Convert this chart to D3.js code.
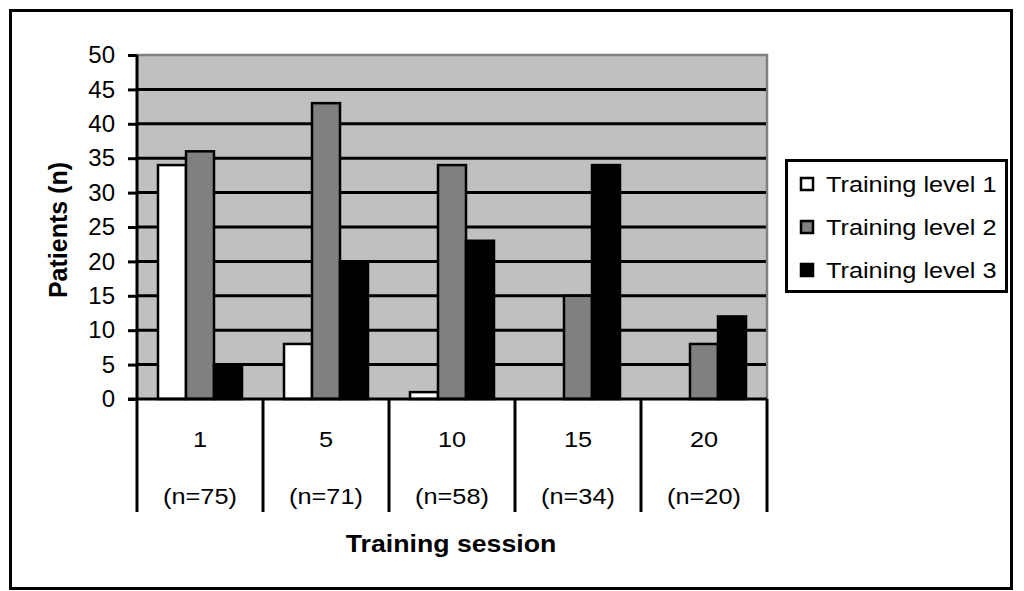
<!DOCTYPE html>
<html><head><meta charset="utf-8">
<script src="https://cdn.jsdelivr.net/npm/d3@7"></script>
<style>body{margin:0;background:#fff}svg{display:block}text{font-family:"Liberation Sans",Arial,sans-serif}</style>
</head><body>
<script>
const sessions = ["1","5","10","15","20"];
const sessionN = ["(n=75)","(n=71)","(n=58)","(n=34)","(n=20)"];
const seriesNames = ["Training level 1","Training level 2","Training level 3"];
const level1 = [34, 8, 1, 0, 0];
const level2 = [36, 43, 34, 15, 8];
const level3 = [5, 20, 23, 34, 12];
const yTicks = [0,5,10,15,20,25,30,35,40,45,50];
const colors = ["#ffffff","#808080","#000000"];

const W = 1024, H = 591;
const svg = d3.select("body").append("svg").attr("width", W).attr("height", H);

// helper: text stretched horizontally
function stext(parent, x, y, str, size, sx, anchor, bold) {
  return parent.append("text")
    .attr("transform", `translate(${x},${y}) scale(${sx},1)`)
    .attr("text-anchor", anchor).attr("font-size", size)
    .attr("font-weight", bold ? "bold" : "normal").attr("fill", "#000").text(str);
}

// outer frame
svg.append("rect").attr("x",10.5).attr("y",10.5).attr("width",1001).attr("height",578)
  .attr("fill","#fff").attr("stroke","#000").attr("stroke-width",3);

const pLeft = 137, pRight = 767, pTop = 55, pBottom = 399;
const x0 = d3.scaleBand().domain(sessions).range([pLeft, pRight]).padding(0);
const x1 = d3.scaleBand().domain(seriesNames).range([0, x0.bandwidth()]).paddingInner(0).paddingOuter(0.75);
const y = d3.scaleLinear().domain([0, 50]).range([pBottom, pTop]);

// plot background
svg.append("rect").attr("x", pLeft).attr("y", pTop).attr("width", pRight-pLeft).attr("height", pBottom-pTop)
  .attr("fill","#c0c0c0");
// gray border top/right
svg.append("path").attr("d", `M${pLeft},${pTop}H${pRight}V${pBottom}`).attr("fill","none")
  .attr("stroke","#808080").attr("stroke-width",2.5);

// gridlines
svg.append("g").selectAll("line").data(yTicks.filter(d=>d>0 && d<50)).join("line")
  .attr("x1", pLeft).attr("x2", pRight-1).attr("y1", d=>y(d)).attr("y2", d=>y(d))
  .attr("stroke","#000").attr("stroke-width",3);

// bars
const data = [level1, level2, level3];
const gBars = svg.append("g");
sessions.forEach((s, i) => {
  seriesNames.forEach((name, j) => {
    const v = data[j][i];
    if (v <= 0) return;
    gBars.append("rect")
      .attr("x", x0(s) + x1(name))
      .attr("y", y(v))
      .attr("width", x1.bandwidth())
      .attr("height", y(0) - y(v))
      .attr("fill", colors[j])
      .attr("stroke", "#000").attr("stroke-width", 2.5);
  });
});

// y axis
const yAxis = d3.axisLeft(y).tickValues(yTicks).tickSize(9).tickPadding(13).tickFormat(d3.format("d"));
const gy = svg.append("g").attr("transform", `translate(${pLeft},0)`).call(yAxis);
gy.select(".domain").attr("stroke","#000").attr("stroke-width",3).attr("d", `M-0,${pTop}V${pBottom}`);
gy.selectAll(".tick line").attr("stroke","#000").attr("stroke-width",3);
gy.selectAll(".tick text").attr("font-size",24).attr("fill","#000").attr("font-family","Liberation Sans, Arial, sans-serif");

// baseline
svg.append("line").attr("x1", pLeft-9).attr("x2", pRight).attr("y1", pBottom).attr("y2", pBottom)
  .attr("stroke","#000").attr("stroke-width",3);

// category dividers
const bounds = sessions.map(s => x0(s)).concat([pRight]);
svg.append("g").selectAll("line").data(bounds).join("line")
  .attr("x1", d=>d).attr("x2", d=>d).attr("y1", pBottom).attr("y2", 512)
  .attr("stroke","#000").attr("stroke-width",3);

// category labels
const gl = svg.append("g");
sessions.forEach((s, i) => {
  const cx = x0(s) + x0.bandwidth()/2;
  stext(gl, cx, 447, s, 22, 1.15, "middle", false);
  stext(gl, cx, 504, sessionN[i], 22, 1.15, "middle", false);
});

// axis titles
stext(svg, 451, 552, "Training session", 23, 1.16, "middle", true);
svg.append("text").attr("transform","translate(67,230) rotate(-90)").attr("text-anchor","middle")
  .attr("font-size",25).attr("font-weight","bold").text("Patients (n)");

// legend
const lg = svg.append("g");
lg.append("rect").attr("x",786.5).attr("y",160.5).attr("width",220).attr("height",131)
  .attr("fill","#fff").attr("stroke","#000").attr("stroke-width",3);
seriesNames.forEach((name, j) => {
  const cy = 184 + j*43;
  lg.append("rect").attr("x",801).attr("y",cy-6).attr("width",12).attr("height",12)
    .attr("fill",colors[j]).attr("stroke","#000").attr("stroke-width",2.5);
  stext(lg, 826, cy+8, name, 22, 1.15, "start", false);
});
</script>
</body></html>
